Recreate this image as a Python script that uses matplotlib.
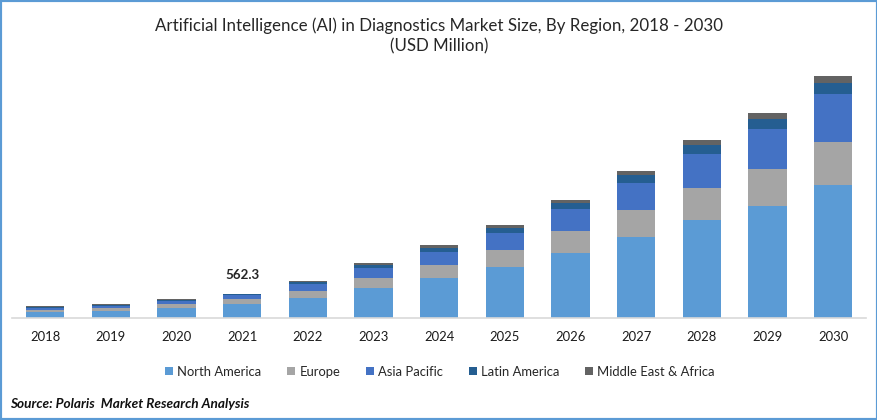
import matplotlib as mpl
import matplotlib.pyplot as plt
from matplotlib.patches import Rectangle

mpl.rcParams['font.family'] = ['Lato', 'DejaVu Sans']

YEARS = ['2018', '2019', '2020', '2021', '2022', '2023', '2024',
         '2025', '2026', '2027', '2028', '2029', '2030']
NORTH_AMERICA = [138, 161, 230, 322, 460, 690, 920, 1173, 1495, 1863, 2254, 2576, 3059]
EUROPE = [46, 69, 92, 115, 161, 230, 299, 391, 506, 621, 736, 851, 989]
ASIA_PACIFIC = [46, 46, 69, 92, 161, 230, 299, 391, 506, 621, 782, 920, 1104]
LATIN_AMERICA = [23, 23, 23, 21, 46, 69, 92, 115, 138, 184, 207, 230, 253]
MIDDLE_EAST_AFRICA = [23, 23, 23, 12.3, 23, 46, 69, 69, 69, 92, 115, 138, 161]

SERIES = [('North America', NORTH_AMERICA, '#5B9BD5'),
          ('Europe', EUROPE, '#A5A5A5'),
          ('Asia Pacific', ASIA_PACIFIC, '#4472C4'),
          ('Latin America', LATIN_AMERICA, '#255E91'),
          ('Middle East & Africa', MIDDLE_EAST_AFRICA, '#636363')]

W, H = 878, 420


def main() -> None:
    fig = plt.figure(figsize=(W / 100, H / 100), dpi=100, facecolor='white')
    # axes box in pixels: baseline at y=318, one pixel is 23 units
    ax = fig.add_axes([12 / W, (H - 318) / H, 854 / W, 260 / H])

    bottom = [0] * len(YEARS)
    for name, values, color in SERIES:
        ax.bar(YEARS, values, width=0.58, bottom=bottom, color=color, label=name)
        bottom = [b + v for b, v in zip(bottom, values)]

    ax.set_xlim(-0.505, 12.5)
    ax.set_ylim(0, 260 * 23)
    ax.set_yticks([])
    for side in ['top', 'left', 'right']:
        ax.spines[side].set_visible(False)
    ax.spines['bottom'].set_color('#D9D9D9')
    ax.spines['bottom'].set_linewidth(1.2)
    ax.tick_params(axis='x', length=0, pad=9.7, labelsize=9.4, labelcolor='#1a1a1a')

    ax.text(3, bottom[3] + 290, '562.3', ha='center', va='bottom',
            fontsize=9.6, fontweight='bold', color='#262626')

    fig.text(439 / W, 1 - 26 / H, 'Artificial Intelligence (AI) in Diagnostics Market Size, By Region, 2018 - 2030',
             ha='center', va='center', fontsize=12.13, color='#262626')
    fig.text(439 / W, 1 - 46 / H, '(USD Million)',
             ha='center', va='center', fontsize=12.13, color='#262626')

    fig.legend(ncol=5, loc='center', bbox_to_anchor=(440 / W, 1 - 371.5 / H),
               frameon=False, fontsize=9.4, handlelength=0.62, handleheight=0.62,
               handletextpad=0.3, columnspacing=1.98, labelcolor='#262626')

    fig.text(10 / W, 1 - 404 / H, 'Source: Polaris  Market Research Analysis',
             ha='left', va='center', fontsize=9.8, fontweight='bold',
             fontstyle='italic', color='#111111')

    fig.add_artist(Rectangle((0, 0), 1, 1, transform=fig.transFigure, fill=False,
                             edgecolor='#5B9BD5', linewidth=3))

    plt.savefig('out.png', dpi=100)
    plt.close()


if __name__ == '__main__':
    main()
